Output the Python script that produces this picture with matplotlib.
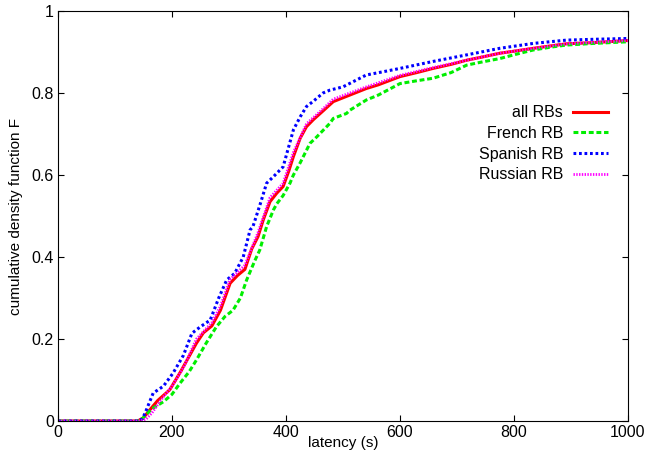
import matplotlib
matplotlib.use("Agg")
import matplotlib.pyplot as plt

plt.rcParams["font.family"] = ["Liberation Sans", "DejaVu Sans"]

# latency (s) / CDF readings per series
all_x = [0, 140, 150, 161, 175, 196, 215, 243, 255, 270, 285, 302, 315, 328, 340, 351, 360, 372, 384, 395,
         405, 413, 425, 436, 448, 460, 483, 512, 541, 562, 600, 630, 658, 690, 717, 745, 775, 805, 834, 865,
         892, 940, 1000]
all_y = [0, 0, 0.008, 0.027, 0.05, 0.076, 0.12, 0.19, 0.215, 0.232, 0.27, 0.336, 0.355, 0.37, 0.42, 0.45, 0.49,
         0.535, 0.556, 0.572, 0.61, 0.645, 0.69, 0.718, 0.735, 0.75, 0.779, 0.795, 0.811, 0.82, 0.84, 0.85, 0.86,
         0.87, 0.88, 0.888, 0.897, 0.903, 0.909, 0.915, 0.92, 0.923, 0.928]

french_x = [0, 140, 149, 165, 185, 200, 214, 230, 243, 260, 278, 293, 307, 320, 331, 345, 354, 366, 378, 384,
            395, 407, 413, 425, 442, 454, 477, 483, 506, 512, 541, 562, 600, 630, 658, 690, 717, 745, 775, 805,
            834, 865, 892, 940, 1000]
french_y = [0, 0, 0.007, 0.03, 0.047, 0.065, 0.092, 0.12, 0.149, 0.19, 0.23, 0.255, 0.27, 0.3, 0.344, 0.39,
            0.417, 0.474, 0.515, 0.53, 0.55, 0.58, 0.6, 0.63, 0.677, 0.693, 0.726, 0.738, 0.75, 0.758, 0.783,
            0.795, 0.823, 0.83, 0.836, 0.85, 0.868, 0.876, 0.884, 0.895, 0.905, 0.912, 0.917, 0.921, 0.925]

spanish_x = [0, 140, 148, 153, 167, 185, 202, 220, 235, 250, 267, 282, 296, 310, 325, 337, 342, 355, 366, 378,
             395, 405, 413, 425, 436, 448, 465, 477, 500, 541, 571, 600, 658, 717, 775, 834, 892, 940, 1000]
spanish_y = [0, 0, 0.005, 0.02, 0.068, 0.085, 0.117, 0.16, 0.214, 0.23, 0.246, 0.3, 0.344, 0.36, 0.4, 0.466,
             0.474, 0.53, 0.58, 0.596, 0.62, 0.67, 0.71, 0.742, 0.767, 0.78, 0.8, 0.807, 0.815, 0.844, 0.852,
             0.86, 0.877, 0.893, 0.909, 0.921, 0.929, 0.931, 0.933]

russian_x = [0, 145, 155, 165, 180, 200, 220, 243, 270, 285, 302, 328, 351, 372, 395, 413, 436, 460, 483, 512,
             541, 600, 658, 717, 775, 834, 892, 1000]
russian_y = [0, 0, 0.005, 0.02, 0.05, 0.085, 0.13, 0.2, 0.24, 0.28, 0.345, 0.38, 0.46, 0.545, 0.58, 0.655,
             0.725, 0.755, 0.785, 0.8, 0.815, 0.843, 0.862, 0.88, 0.897, 0.909, 0.92, 0.928]

fig = plt.figure(figsize=(6.47, 4.55), dpi=100)
ax = fig.add_axes([0.0896, 0.0747, 0.8810, 0.9011])

ax.plot(all_x, all_y, color="#ff0000", lw=2.2, label="all RBs")
ax.plot(french_x, french_y, color="#00ee00", lw=2.2, dashes=(1.6, 0.9), label="French RB")
ax.plot(spanish_x, spanish_y, color="#0000ff", lw=2.2, dashes=(0.9, 0.9), label="Spanish RB")
ax.plot(russian_x, russian_y, color="#ff00ff", lw=2.0, dashes=(0.5, 0.5), label="Russian RB")

ax.set_xlim(0, 1000)
ax.set_ylim(0, 1)
ax.set_xticks([0, 200, 400, 600, 800, 1000])
ax.set_yticks([0, 0.2, 0.4, 0.6, 0.8, 1])
ax.set_yticklabels(["0", "0.2", "0.4", "0.6", "0.8", "1"])
ax.tick_params(direction="in", top=True, right=True, length=4, labelsize=11.5, pad=3)
ax.set_xlabel("latency (s)", fontsize=11, labelpad=-3)
ax.set_ylabel("cumulative density function F", fontsize=11, labelpad=6)

ax.legend(loc="upper right", bbox_to_anchor=(0.99, 0.805), frameon=False, markerfirst=False,
          fontsize=11.5, handlelength=2.2, handletextpad=0.6, labelspacing=0.35)

fig.savefig("out.png", dpi=100)
